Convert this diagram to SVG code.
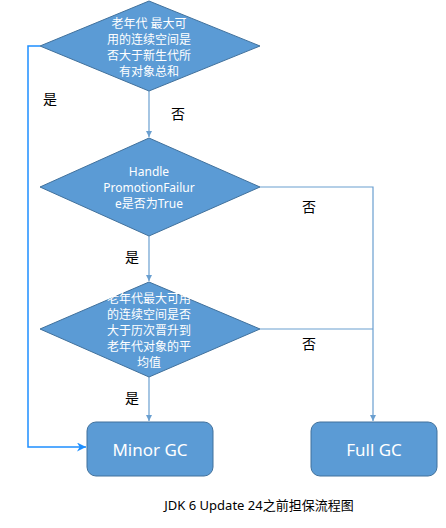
<svg xmlns="http://www.w3.org/2000/svg" width="446" height="528" viewBox="0 0 446 528">
<style>
.shape{fill:#5b9bd5;stroke:#41719c;stroke-width:1}
.wt{fill:#ffffff;font-family:"Noto Sans","Noto Sans CJK SC",sans-serif;font-size:12px;text-anchor:middle;dominant-baseline:central}
.big{font-size:17px}
.lbl{fill:#000000;font-family:"Noto Sans CJK SC",sans-serif;font-size:14px;text-anchor:middle;dominant-baseline:central}
.line{fill:none;stroke:#6a9fd0;stroke-width:1.2}
.bline{fill:none;stroke:#1e8fff;stroke-width:1.5}
.cap{fill:#000000;font-family:"Noto Sans","Noto Sans CJK SC",sans-serif;font-size:13px;text-anchor:middle;dominant-baseline:central}
</style>
<defs>
<marker id="ah" viewBox="0 0 10 10" refX="10" refY="5" markerWidth="6" markerHeight="6" orient="auto" markerUnits="userSpaceOnUse">
<path d="M0,0 L10,5 L0,10 z" fill="#6a9fd0"/>
</marker>
<marker id="ahb" viewBox="0 0 10 10" refX="10" refY="5" markerWidth="12" markerHeight="9" orient="auto" markerUnits="userSpaceOnUse">
<path d="M0,0 L10,5 L0,10 L3,5 z" fill="#1e8fff"/>
</marker>
</defs>
<g id="connectors">
<path class="line" d="M149,91 L149,137" marker-end="url(#ah)"/>
<path class="line" d="M149,236 L149,281" marker-end="url(#ah)"/>
<path class="line" d="M149,377 L149,421" marker-end="url(#ah)"/>
<path class="line" d="M260,187 L373,187 L373,421" marker-end="url(#ah)"/>
<path class="line" d="M260,329 L373,329"/>
<path class="bline" d="M40,46 L28,46 L28,447 L86,447" marker-end="url(#ahb)"/>
<text class="lbl" x="178" y="113">否</text>
<text class="lbl" x="50" y="98">是</text>
<text class="lbl" x="132" y="256">是</text>
<text class="lbl" x="132" y="397">是</text>
<text class="lbl" x="309" y="206">否</text>
<text class="lbl" x="309" y="343">否</text>
</g>
<g id="decision1">
<polygon class="shape" points="149,1 260,46 149,91 40,46"/>
<text class="wt" x="149" y="23">老年代 最大可</text>
<text class="wt" x="149" y="39">用的连续空间是</text>
<text class="wt" x="149" y="55">否大于新生代所</text>
<text class="wt" x="149" y="71">有对象总和</text>
</g>
<g id="decision2">
<polygon class="shape" points="149,138 260,187 149,236 40,187"/>
<text class="wt" x="149" y="171">Handle</text>
<text class="wt" x="149" y="187">PromotionFailur</text>
<text class="wt" x="149" y="203">e是否为True</text>
</g>
<g id="decision3">
<polygon class="shape" points="149,282 260,329 149,377 40,329"/>
<text class="wt" x="149" y="298">老年代最大可用</text>
<text class="wt" x="149" y="314">的连续空间是否</text>
<text class="wt" x="149" y="330">大于历次晋升到</text>
<text class="wt" x="149" y="346">老年代对象的平</text>
<text class="wt" x="149" y="362">均值</text>
</g>
<g id="minorgc">
<rect class="shape" x="87" y="422" width="126" height="54" rx="9"/>
<text class="wt big" x="150" y="449">Minor GC</text>
</g>
<g id="fullgc">
<rect class="shape" x="311" y="422" width="126" height="54" rx="9"/>
<text class="wt big" x="374" y="449">Full GC</text>
</g>
<text class="cap" x="259" y="505">JDK 6 Update 24之前担保流程图</text>
</svg>
